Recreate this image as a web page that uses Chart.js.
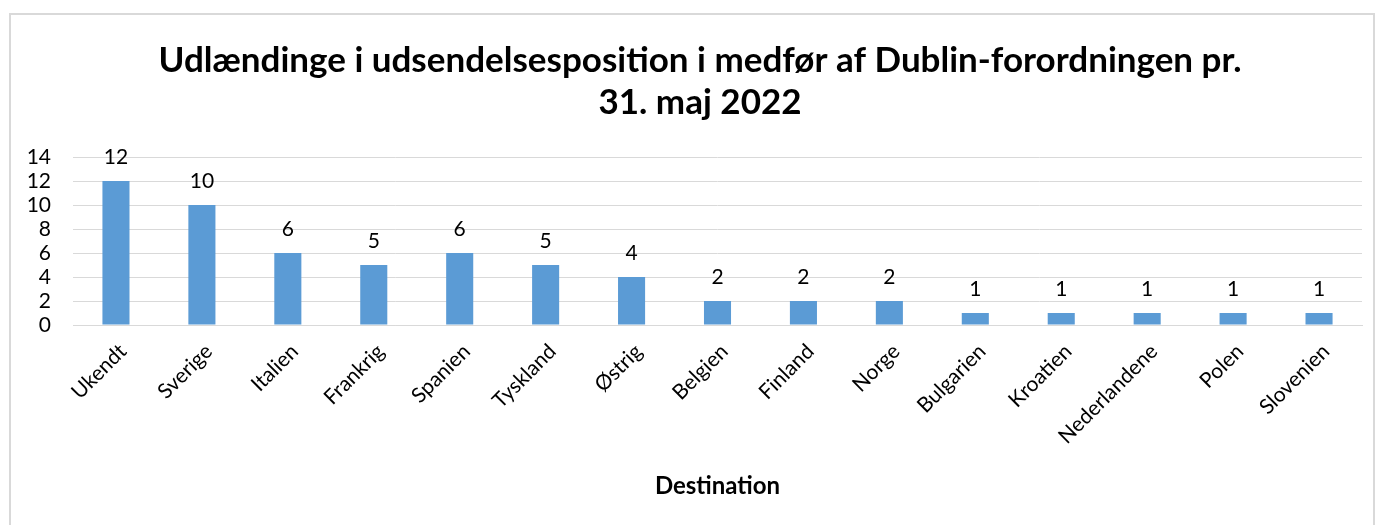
<!DOCTYPE html>
<html>
<head>
<meta charset="utf-8">
<script src="https://cdn.jsdelivr.net/npm/chart.js@4"></script>
<style>
  html, body { margin: 0; padding: 0; background: #fff; overflow: hidden; }
  #wrap { position: relative; width: 1384px; height: 525px; }
  #frame { position: absolute; left: 9px; top: 13px; width: 1366px; height: 600px; border: 2px solid #d9d9d9; box-sizing: border-box; }
  canvas { position: absolute; left: 0; top: 0; }
</style>
</head>
<body>
<div id="wrap">
  <div id="frame"></div>
  <canvas id="myChart" width="1384" height="525"></canvas>
</div>
<script>
// data
const destinations = ['Ukendt', 'Sverige', 'Italien', 'Frankrig', 'Spanien', 'Tyskland', 'Østrig',
  'Belgien', 'Finland', 'Norge', 'Bulgarien', 'Kroatien', 'Nederlandene', 'Polen', 'Slovenien'];
const antal = [12, 10, 6, 5, 6, 5, 4, 2, 2, 2, 1, 1, 1, 1, 1];
const yTicks = [0, 2, 4, 6, 8, 10, 12, 14];
const titleLines = ['Udlændinge i udsendelsesposition i medfør af Dublin-forordningen pr.', '31. maj 2022'];

const FONT = "Lato, 'Open Sans', sans-serif";

// værdier over søjlerne
const barLabels = {
  id: 'barLabels',
  afterDatasetsDraw(chart) {
    const ctx = chart.ctx;
    const meta = chart.getDatasetMeta(0);
    ctx.save();
    ctx.font = '21px ' + FONT;
    ctx.fillStyle = '#000';
    ctx.textAlign = 'center';
    ctx.textBaseline = 'middle';
    meta.data.forEach((bar, i) => {
      ctx.fillText(String(antal[i]), bar.x, bar.y - 24);
    });
    ctx.restore();
  }
};

// titel, centreret i rammen (ikke kun over plotområdet)
const chartTitle = {
  id: 'chartTitle',
  afterDraw(chart) {
    const ctx = chart.ctx;
    ctx.save();
    ctx.font = 'bold 35px ' + FONT;
    ctx.fillStyle = '#000';
    ctx.textAlign = 'center';
    ctx.textBaseline = 'middle';
    titleLines.forEach((line, i) => ctx.fillText(line, 700, 61 + i * 42));
    ctx.restore();
  }
};

const ctx = document.getElementById('myChart').getContext('2d');
new Chart(ctx, {
  type: 'bar',
  data: {
    labels: destinations,
    datasets: [{
      data: antal,
      backgroundColor: '#5B9BD5',
      borderWidth: 0,
      barPercentage: 0.63,
      categoryPercentage: 0.5
    }]
  },
  options: {
    responsive: false,
    animation: false,
    layout: { padding: { left: 0, right: 22, top: 157, bottom: 24 } },
    plugins: {
      legend: { display: false },
      tooltip: { enabled: false },
      title: { display: false }
    },
    scales: {
      x: {
        grid: { display: false, drawTicks: false },
        border: { display: true, color: '#d9d9d9', width: 1 },
        ticks: {
          color: '#000',
          font: { family: FONT, size: 21 },
          minRotation: 45,
          maxRotation: 45,
          autoSkip: false,
          padding: 14,
          labelOffset: 7
        },
        title: {
          display: true,
          text: 'Destination',
          color: '#000',
          font: { family: FONT, size: 24, weight: 'bold' },
          padding: { top: 0, bottom: 0 }
        },
        afterFit(scale) { scale.height = 176; }
      },
      y: {
        min: 0,
        max: 14,
        afterBuildTicks(scale) { scale.ticks = yTicks.map(v => ({ value: v })); },
        grid: { color: '#d9d9d9', lineWidth: 1, drawTicks: false },
        border: { display: false },
        ticks: {
          color: '#000',
          font: { family: FONT, size: 21 },
          padding: 22,
          autoSkip: false
        },
        afterFit(scale) { scale.width = 73; }
      }
    }
  },
  plugins: [barLabels, chartTitle]
});
</script>
</body>
</html>
